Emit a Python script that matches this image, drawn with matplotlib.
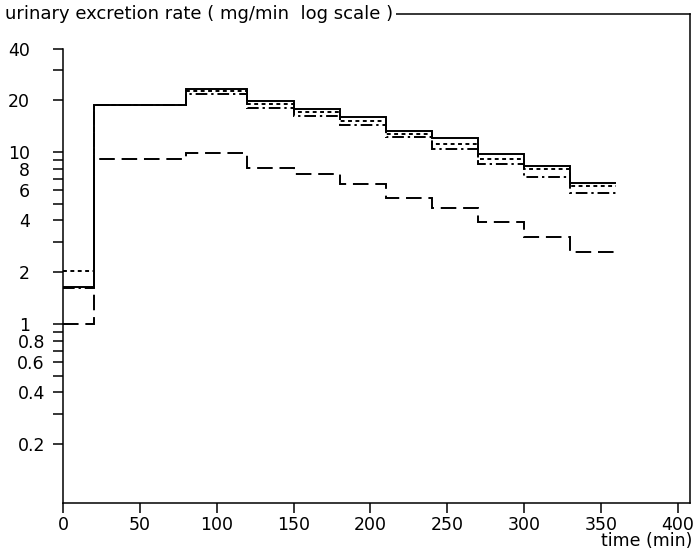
import matplotlib
matplotlib.use('Agg')
from matplotlib import pyplot as plt
from matplotlib.ticker import FixedLocator, NullFormatter

# step edges (min) and excretion rates (mg/min)
edges = [0, 20, 80, 120, 150, 180, 210, 240, 270, 300, 330, 360]
solid = [1.64, 18.8, 23.2, 19.9, 17.9, 16.0, 13.3, 12.0, 9.8, 8.3, 6.63]
dotted = [2.03, 18.8, 22.5, 19.0, 17.1, 15.1, 12.8, 11.1, 9.07, 7.93, 6.34]
dashdot = [1.62, 18.8, 21.9, 18.1, 16.3, 14.4, 12.2, 10.4, 8.48, 7.13, 5.75]
dashed = [1.0, 9.1, 9.9, 8.1, 7.42, 6.49, 5.38, 4.71, 3.90, 3.22, 2.61]

ytick_vals = [0.2, 0.4, 0.6, 0.8, 1, 2, 4, 6, 8, 10, 20, 40]
ytick_labels = ['0.2', '0.4', '0.6', '0.8', '1', '2', '4', '6', '8', '10', '20', '40']
yminor = [0.3, 0.5, 0.7, 0.9, 3, 5, 7, 9, 30]
xticks = list(range(0, 401, 50))

plt.rcParams['font.family'] = 'DejaVu Sans'
fig = plt.figure(figsize=(6.93, 5.51), dpi=100)
ax = fig.add_axes([63/693, 1-503/551, (690-63)/693, (503-14)/551])

lw = 1.4
ax.stairs(dashed, edges, baseline=None, color='black', lw=lw, linestyle=(0, (8, 3.5)))
ax.stairs(dashdot, edges, baseline=None, color='black', lw=lw, linestyle=(0, (6, 2, 1.2, 2)))
ax.stairs(dotted, edges, baseline=None, color='black', lw=lw, linestyle=(0, (2, 1.8)))
ax.stairs(solid, edges, baseline=None, color='black', lw=lw)

ax.set_yscale('log')
ax.set_xlim(0, 408)
ax.set_ylim(0.091, 63.5)

ax.yaxis.set_major_locator(FixedLocator(ytick_vals))
ax.set_yticklabels(ytick_labels)
ax.yaxis.set_minor_locator(FixedLocator(yminor))
ax.yaxis.set_minor_formatter(NullFormatter())
ax.set_xticks(xticks)
ax.set_xticklabels([str(t) for t in xticks])

ax.tick_params(axis='both', which='both', direction='out', length=7, width=1.1,
               labelsize=12.5, colors='black')
ax.tick_params(axis='y', which='major', pad=17)
for tick, lab in zip(ax.yaxis.get_major_ticks(), ytick_labels):
    if '.' in lab:
        tick.set_pad(6)
ax.tick_params(axis='x', pad=2)

for s in ax.spines.values():
    s.set_linewidth(1.1)
ax.spines['left'].set_bounds(0.091, 40)

fig.text(692/693, 1-541/551, 'time (min)', ha='right', va='center', fontsize=12.5)
fig.text(5/693, 1-14/551, 'urinary excretion rate ( mg/min  log scale )', ha='left',
         va='center', fontsize=13,
         bbox=dict(facecolor='white', edgecolor='none', pad=2))

fig.savefig('out.png', dpi=100)
